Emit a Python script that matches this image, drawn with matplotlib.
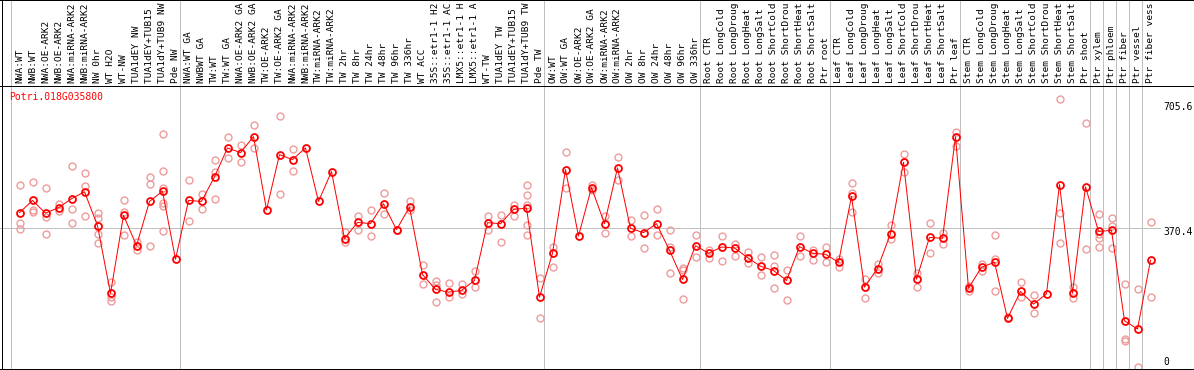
import matplotlib
matplotlib.use("Agg")
import matplotlib.pyplot as plt

gene = "Potri.018G035800"

labels = [
    "NWA:WT", "NWB:WT", "NWA:OE-ARK2", "NWB:OE-ARK2", "NWA:miRNA-ARK2",
    "NWB:miRNA-ARK2", "NW 0hr", "WT H2O", "WT-NW", "TUA1dEY NW",
    "TUA1dEY+TUB15 NW", "TUA1dY+TUB9 NW", "Pde NW",
    "NWA:WT GA", "NWBWT GA", "TW:WT", "TW:WT GA", "NWA:OE-ARK2 GA",
    "NWB:OE-ARK2 GA", "TW:OE-ARK2", "TW:OE-ARK2 GA", "NWA:miRNA-ARK2 GA",
    "NWB:miRNA-ARK2 GA", "TW:miRNA-ARK2", "TW:miRNA-ARK2 GA", "TW 2hr",
    "TW 8hr", "TW 24hr", "TW 48hr", "TW 96hr", "TW 336hr", "WT ACC",
    "35S::etr1-1 H2O", "35S::etr1-1 ACC", "LMX5::etr1-1 H2O",
    "LMX5::etr1-1 ACC", "WT-TW", "TUA1dEY TW", "TUA1dEY+TUB15 TW",
    "TUA1dY+TUB9 TW", "Pde TW",
    "OW:WT", "OW:WT GA", "OW:OE-ARK2", "OW:OE-ARK2 GA", "OW:miRNA-ARK2",
    "OW:miRNA-ARK2 GA", "OW 2hr", "OW 8hr", "OW 24hr", "OW 48hr", "OW 96hr",
    "OW 336hr",
    "Root CTR", "Root LongCold", "Root LongDrought", "Root LongHeat",
    "Root LongSalt", "Root ShortCold", "Root ShortDrought", "Root ShortHeat",
    "Root ShortSalt", "Ptr root",
    "Leaf CTR", "Leaf LongCold", "Leaf LongDrought", "Leaf LongHeat",
    "Leaf LongSalt", "Leaf ShortCold", "Leaf ShortDrought", "Leaf ShortHeat",
    "Leaf ShortSalt", "Ptr leaf",
    "Stem CTR", "Stem LongCold", "Stem LongDrought", "Stem LongHeat",
    "Stem LongSalt", "Stem ShortCold", "Stem ShortDrought", "Stem ShortHeat",
    "Stem ShortSalt", "Ptr shoot", "Ptr xylem", "Ptr phloem", "Ptr fiber",
    "Ptr vessel", "Ptr fiber vessel",
]

means = [
    412.0, 444.8, 411.0, 425.3, 449.3, 467.9, 377.5, 196.6, 404.9, 324.3,
    442.1, 469.5, 287.8, 444.8, 442.1, 507.8, 584.9, 572.4, 615.0, 420.0,
    567.1, 553.8, 584.9, 442.1, 521.9, 342.9, 386.2, 382.8, 436.0, 366.8,
    426.9, 247.1, 207.2, 200.0, 204.6, 231.2, 385.4, 382.8, 420.8, 424.3,
    186.7, 303.8, 527.2, 349.8, 479.3, 382.8, 531.7, 370.3, 358.8, 382.8,
    311.8, 233.8, 324.3, 303.8, 320.5, 317.9, 292.3, 269.2, 257.8, 231.2,
    321.6, 303.8, 301.1, 279.8, 455.4, 213.3, 263.1, 356.2, 546.6, 234.6,
    346.3, 343.7, 615.0, 210.7, 266.5, 279.8, 130.1, 201.9, 168.1, 195.5,
    487.3, 197.4, 481.2, 362.3, 364.9, 123.7, 101.6, 285.2,
]

replicates = [
    [486.5, 384.4, 369.5], [495.3, 420.0, 413.6], [478.5, 400.3, 356.2],
    [434.1, 416.3], [537.1, 422.7, 385.4], [518.4, 483.9, 404.1],
    [411.0, 397.7, 356.2, 332.2], [225.8, 187.5, 176.9],
    [446.6, 413.6, 353.5], [333.8, 311.8], [507.8, 489.2, 324.3],
    [622.2, 523.8, 478.5, 438.6, 428.8, 363.1], [], [499.8, 389.7],
    [460.7, 421.6], [553.0, 520.0, 449.3], [614.2, 557.3], [593.7, 547.7],
    [646.1, 584.9], [], [670.9, 462.6], [582.3, 524.6], [], [], [],
    [360.4, 333.8], [402.2, 364.9], [418.2, 349.0], [465.2, 409.4],
    [366.8], [442.1, 418.2], [271.9, 220.5], [229.3, 218.7, 173.4],
    [223.2, 187.5], [220.5, 193.9], [257.8, 214.1], [404.1, 364.9],
    [404.9, 334.9], [433.3, 403.0], [486.5, 459.9, 431.5, 380.1, 353.5],
    [236.5, 131.7], [320.5, 267.3], [575.1, 477.5], [], [484.7, 471.4],
    [404.1, 358.8], [561.8, 499.8], [393.4, 349.0], [404.9, 317.1],
    [420.8, 353.5], [364.9, 320.5, 250.6], [264.7, 258.6, 181.4],
    [353.5, 295.0], [311.8, 292.3], [349.0, 284.4], [328.5, 297.7],
    [306.4, 278.0], [293.9, 244.5], [298.5, 270.0, 209.9], [260.4, 178.8],
    [349.0, 296.6], [312.6, 286.0], [319.7, 280.6], [288.6, 267.3],
    [491.8, 464.2, 413.6], [234.6, 183.3], [275.3, 249.8], [378.3, 341.0],
    [569.8, 521.9], [250.6, 213.3], [385.4, 305.6], [357.8, 327.7],
    [628.3, 591.1], [216.0, 202.7], [274.5, 255.9], [351.7, 289.7, 202.7],
    [134.3], [225.8, 185.9], [192.1, 145.0], [], [715.3, 412.0, 332.2],
    [213.3, 183.3], [651.4, 314.4], [409.4, 356.2, 345.5, 320.5],
    [398.7, 376.4, 318.9], [220.5, 75.0, 68.9], [207.2, 0.0], [386.2, 186.7],
]

# last sample index of each group (vertical separators)
group_ends = [-1, 12, 40, 52, 62, 72, 82, 83, 84, 85, 86]
yticks = [705.6, 370.4, 0]
max_label_chars = 14  # header only shows the first 14 characters

W, H = 1194, 370
fig = plt.figure(figsize=(W / 100, H / 100), dpi=100)
ax = fig.add_axes([0, 0, 1, 1])

# pixel layout -> data coords
x0, dx = 19.5, 13.0
y0, dy = 367.1, 0.3747


def px_x(p):
    return (p - x0) / dx


def px_y(p):
    return (y0 - p) / dy


ax.set_xlim(px_x(0), px_x(W))
ax.set_ylim(px_y(H), px_y(0))
ax.axis("off")

mono = "DejaVu Sans Mono"
grey = "#c0c0c0"
lw = 0.72

for g in group_ends:
    ax.axvline(g + 0.37, color=grey, lw=lw, zorder=1)
ax.plot([px_x(0), px_x(1160)], [370.4, 370.4], color=grey, lw=lw, zorder=1)

# frame lines
ax.axvline(px_x(2), color="black", lw=lw, zorder=5)
ax.axhline(px_y(86), color="black", lw=lw, zorder=5)
ax.axhline(px_y(369), color="black", lw=lw, zorder=5)
ax.axhline(px_y(0.5), color="black", lw=lw, zorder=5)

xs = list(range(len(means)))
for i, reps in enumerate(replicates):
    if reps:
        ax.plot([i] * len(reps), reps, linestyle="none", marker="o",
                ms=5, mfc="none", mec="#ee9c9c", mew=1.0, zorder=2,
                clip_on=False)

ax.plot(xs, means, color="red", lw=lw, zorder=3)
ax.plot(xs, means, linestyle="none", marker="o", ms=5, mfc="none",
        mec="red", mew=1.3, zorder=4)

for i, lab in enumerate(labels):
    ax.text(i, px_y(83), lab[:max_label_chars], rotation=90, ha="center",
            va="bottom", family=mono, fontsize=6.8, color="black")

ax.text(px_x(9.5), px_y(97), gene, ha="left", va="center", family=mono,
        fontsize=7, color="red")

offsets = {705.6: 4, 370.4: 4, 0: -5.4}
for t in yticks:
    label = "0" if t == 0 else "%.1f" % t
    ax.text(px_x(1163), t - offsets[t] / dy, label, ha="left", va="center",
            family=mono, fontsize=7, color="black")

fig.savefig("out.png", dpi=100)
